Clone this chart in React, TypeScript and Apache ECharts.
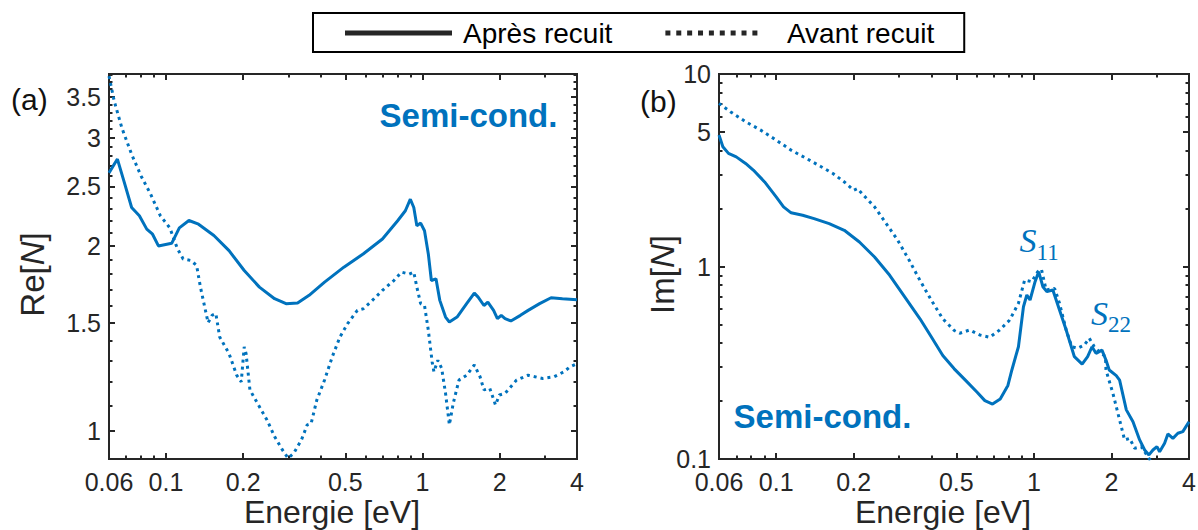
import { useEffect, useRef } from 'react';
import * as echarts from 'echarts';

const FONT = '"Liberation Sans", Arial, Helvetica, sans-serif';
const SERIF = '"Liberation Serif", "Times New Roman", serif';
const BLUE = '#0072BD';
const AXIS = '#262626';

// ---------- Panel (a): Re[N] ----------
const reEnergySolid = [0.06, 0.0647, 0.0686, 0.0735, 0.0788, 0.0842, 0.0887, 0.0935, 0.1053, 0.1128, 0.1229, 0.134, 0.1538, 0.1762, 0.2019, 0.2314, 0.2651, 0.2938, 0.3259, 0.3614, 0.4152, 0.4937, 0.5869, 0.6979, 0.8, 0.8573, 0.8965, 0.9247, 0.9504, 0.9835, 1.018, 1.0535, 1.0827, 1.1285, 1.1679, 1.2296, 1.2725, 1.3634, 1.4857, 1.5918, 1.6475, 1.7355, 1.797, 1.8924, 1.9584, 2.027, 2.098, 2.2096, 2.4076, 2.58, 2.86, 3.17, 3.51, 4.0];
const reSolid = [2.63, 2.77, 2.55, 2.31, 2.24, 2.13, 2.09, 2.0, 2.02, 2.14, 2.2, 2.17, 2.08, 1.965, 1.824, 1.714, 1.641, 1.611, 1.615, 1.662, 1.746, 1.847, 1.941, 2.053, 2.198, 2.282, 2.383, 2.31, 2.158, 2.179, 2.117, 1.941, 1.757, 1.768, 1.631, 1.532, 1.504, 1.532, 1.611, 1.676, 1.651, 1.6, 1.62, 1.571, 1.523, 1.542, 1.523, 1.51, 1.542, 1.571, 1.611, 1.647, 1.641, 1.635];

const reEnergyDotted = [0.06, 0.0629, 0.0674, 0.0735, 0.08, 0.0871, 0.0951, 0.1036, 0.1108, 0.1167, 0.125, 0.1317, 0.1363, 0.146, 0.1512, 0.1565, 0.162, 0.1762, 0.1887, 0.1966, 0.2019, 0.2053, 0.2125, 0.2314, 0.2476, 0.2651, 0.2841, 0.2992, 0.315, 0.3375, 0.3554, 0.368, 0.3874, 0.4152, 0.4449, 0.4767, 0.5108, 0.5573, 0.5869, 0.6283, 0.6979, 0.7733, 0.8287, 0.8878, 0.9247, 0.9504, 0.9835, 1.018, 1.0535, 1.0902, 1.108, 1.1474, 1.1874, 1.2296, 1.2725, 1.3175, 1.3873, 1.4857, 1.5918, 1.6759, 1.7355, 1.8287, 1.9253, 1.993, 2.098, 2.3256, 2.58, 2.9385, 3.26, 3.558, 3.745, 4.0];
const reDotted = [3.78, 3.44, 3.11, 2.82, 2.6, 2.43, 2.24, 2.14, 1.98, 1.905, 1.894, 1.859, 1.714, 1.5, 1.542, 1.552, 1.422, 1.336, 1.232, 1.202, 1.37, 1.336, 1.166, 1.095, 1.042, 0.979, 0.932, 0.903, 0.92, 0.967, 1.023, 1.028, 1.123, 1.21, 1.32, 1.422, 1.495, 1.571, 1.58, 1.621, 1.693, 1.757, 1.813, 1.8, 1.813, 1.714, 1.611, 1.6, 1.458, 1.295, 1.248, 1.303, 1.264, 1.151, 1.023, 1.109, 1.21, 1.232, 1.28, 1.225, 1.166, 1.173, 1.102, 1.144, 1.151, 1.21, 1.232, 1.217, 1.225, 1.248, 1.27, 1.287];

// ---------- Panel (b): Im[N] ----------
const imEnergySolid = [0.06, 0.0621, 0.0653, 0.07, 0.0761, 0.0815, 0.0902, 0.1, 0.1068, 0.1143, 0.1267, 0.1403, 0.1606, 0.1838, 0.2104, 0.2409, 0.2758, 0.3158, 0.3615, 0.4003, 0.4432, 0.4909, 0.5434, 0.6024, 0.6454, 0.6913, 0.7405, 0.7931, 0.8216, 0.8713, 0.9113, 0.9391, 0.9666, 1.011, 1.044, 1.0843, 1.1228, 1.1851, 1.2577, 1.3348, 1.4364, 1.5392, 1.6171, 1.6814, 1.7424, 1.8378, 1.9046, 1.9614, 2.0884, 2.1515, 2.2849, 2.4249, 2.5738, 2.6912, 2.7967, 2.8978, 3.003, 3.0764, 3.2163, 3.3125, 3.4637, 3.6208, 3.7858, 4.0];
const imSolid = [4.82, 4.19, 3.87, 3.71, 3.43, 3.17, 2.75, 2.3, 2.04, 1.9, 1.846, 1.774, 1.671, 1.542, 1.341, 1.121, 0.9, 0.694, 0.535, 0.43, 0.345, 0.294, 0.256, 0.222, 0.201, 0.193, 0.205, 0.241, 0.29, 0.383, 0.618, 0.711, 0.67, 0.834, 0.94, 0.785, 0.74, 0.755, 0.594, 0.468, 0.34, 0.311, 0.34, 0.383, 0.354, 0.368, 0.327, 0.29, 0.271, 0.257, 0.18, 0.156, 0.1256, 0.1114, 0.105, 0.1114, 0.1159, 0.109, 0.1206, 0.1349, 0.128, 0.136, 0.1387, 0.156];

const imEnergyDotted = [0.06, 0.0664, 0.0761, 0.0871, 0.1, 0.1143, 0.1311, 0.15, 0.1661, 0.1838, 0.2, 0.2069, 0.2179, 0.2409, 0.2673, 0.2961, 0.3279, 0.3615, 0.4003, 0.4432, 0.4909, 0.5157, 0.5636, 0.6164, 0.6739, 0.7369, 0.8058, 0.8713, 0.9211, 0.9813, 1.035, 1.0702, 1.116, 1.2034, 1.2577, 1.3348, 1.4033, 1.4783, 1.5692, 1.6409, 1.7158, 1.7946, 1.897, 1.9046, 2.0265, 2.1515, 2.2504, 2.3533, 2.4608, 2.6123, 2.7707, 2.85];
const imDotted = [7.04, 6.37, 5.65, 5.11, 4.535, 4.02, 3.64, 3.29, 3.04, 2.75, 2.49, 2.54, 2.35, 2.04, 1.67, 1.37, 1.08, 0.847, 0.667, 0.535, 0.465, 0.45, 0.468, 0.441, 0.429, 0.468, 0.527, 0.644, 0.851, 0.834, 0.94, 0.967, 0.755, 0.77, 0.644, 0.468, 0.383, 0.376, 0.391, 0.424, 0.383, 0.361, 0.34, 0.29, 0.2195, 0.1595, 0.1256, 0.128, 0.1137, 0.1159, 0.1028, 0.097];

// Peak annotations (S11, S22)
const peakNames = ['11', '22'];
const peakEnergy = [1.048, 1.993];
const peakIm = [1.316, 0.55];

// ---------- Axes ----------
const xRange = [0.06, 4];
const reRange = [0.9, 3.81];
const imRange = [0.1, 10];

const xMajorTicks = [0.06, 0.1, 0.2, 0.5, 1, 2, 4];
const xMajorLabels = ['0.06', '0.1', '0.2', '0.5', '1', '2', '4'];
const xMinorTicks = [0.07, 0.08, 0.09, 0.3, 0.4, 0.6, 0.7, 0.8, 0.9, 3];

const reMajorTicks = [1, 1.5, 2, 2.5, 3, 3.5];
const reMajorLabels = ['1', '1.5', '2', '2.5', '3', '3.5'];
const reMinorTicks = [0.9, 1.1, 1.2, 1.3, 1.4, 1.6, 1.7, 1.8, 1.9, 2.1, 2.2, 2.3, 2.4, 2.6, 2.7, 2.8, 2.9, 3.1, 3.2, 3.3, 3.4, 3.6, 3.7, 3.8];

const imMajorTicks = [0.1, 1, 5, 10];
const imMajorLabels = ['0.1', '1', '5', '10'];
const imMinorTicks = [0.2, 0.3, 0.4, 0.5, 0.6, 0.7, 0.8, 0.9, 2, 3, 4, 6, 7, 8, 9];

const lg = (v: number) => Math.log10(v);
const pairs = (xs: number[], ys: number[]) => xs.map((x, i) => [lg(x), lg(ys[i])]);
const labelAt = (ticks: number[], texts: string[]) => (v: number) => {
  const i = ticks.findIndex((t) => Math.abs(lg(t) - v) < 1e-6);
  return i >= 0 ? texts[i] : '';
};

function tickAxis(
  gridIndex: number,
  position: string,
  range: number[],
  ticks: number[],
  length: number,
  label?: { ticks: number[]; texts: string[]; margin: number },
  extra: any = {}
) {
  return {
    type: 'value',
    gridIndex,
    position,
    min: lg(range[0]),
    max: lg(range[1]),
    axisLine: { show: false, onZero: false },
    splitLine: { show: false },
    axisTick: {
      show: true,
      inside: true,
      length,
      customValues: ticks.map(lg),
      lineStyle: { color: AXIS, width: 2 },
    },
    axisLabel: label
      ? {
          show: true,
          customValues: label.ticks.map(lg),
          formatter: labelAt(label.ticks, label.texts),
          margin: label.margin,
          fontSize: 25,
          lineHeight: 25,
          fontFamily: FONT,
          color: AXIS,
          showMinLabel: true,
          showMaxLabel: true,
          hideOverlap: false,
        }
      : { show: false },
    nameMoveOverlap: false,
    ...extra,
  };
}

const xName = {
  name: 'Energie [eV]',
  nameLocation: 'middle',
  nameGap: 37,
  nameTextStyle: { fontSize: 32, lineHeight: 32, fontFamily: FONT, color: AXIS, padding: [0, 22, 0, 0] },
};

const yName = (prefix: string, gap: number) => ({
  name: `${prefix}[{i|N}]`,
  nameLocation: 'middle',
  nameRotate: 90,
  nameGap: gap,
  nameTextStyle: {
    fontSize: 33,
    fontFamily: FONT,
    color: AXIS,
    padding: [0, 16, 0, 0],
    rich: { i: { fontSize: 33, fontFamily: FONT, fontStyle: 'italic', color: AXIS } },
  },
});

const dotIcon =
  'path://' + [0, 1, 2, 3, 4, 5, 6, 7, 8].map((k) => `M${k * 10.875} 0h5v5h-5z`).join(' ');

const lineSeries = (name: string, x: number, y: number, data: number[][], dotted: boolean, extra: any = {}) => ({
  type: 'line',
  name,
  xAxisIndex: x,
  yAxisIndex: y,
  data,
  showSymbol: false,
  symbol: 'none',
  clip: true,
  silent: true,
  lineStyle: { color: BLUE, width: 3, type: dotted ? [3, 4] : 'solid' },
  itemStyle: { color: BLUE },
  ...extra,
});

export default function App() {
  const ref = useRef<HTMLDivElement>(null);

  useEffect(() => {
    if (!ref.current) return;
    const chart = echarts.init(ref.current, undefined, { renderer: 'svg' });

    const gridBase = {
      show: true,
      borderColor: AXIS,
      borderWidth: 2,
      backgroundColor: 'transparent',
      containLabel: false,
      outerBoundsMode: 'none',
    };

    const option: any = {
      animation: false,
      grid: [
        { ...gridBase, left: 109, top: 74, width: 468, height: 385 },
        { ...gridBase, left: 719, top: 74, width: 470, height: 385 },
      ],
      xAxis: [
        tickAxis(0, 'bottom', xRange, xMajorTicks, 6, { ticks: xMajorTicks, texts: xMajorLabels, margin: 10 }, xName),
        tickAxis(0, 'bottom', xRange, xMinorTicks, 3.5),
        tickAxis(0, 'top', xRange, xMajorTicks, 6),
        tickAxis(0, 'top', xRange, xMinorTicks, 3.5),
        tickAxis(1, 'bottom', xRange, xMajorTicks, 6, { ticks: xMajorTicks, texts: xMajorLabels, margin: 10 }, xName),
        tickAxis(1, 'bottom', xRange, xMinorTicks, 3.5),
        tickAxis(1, 'top', xRange, xMajorTicks, 6),
        tickAxis(1, 'top', xRange, xMinorTicks, 3.5),
      ],
      yAxis: [
        tickAxis(0, 'left', reRange, reMajorTicks, 6, { ticks: reMajorTicks, texts: reMajorLabels, margin: 8 }, yName('Re', 60)),
        tickAxis(0, 'left', reRange, reMinorTicks, 3.5),
        tickAxis(0, 'right', reRange, reMajorTicks, 6),
        tickAxis(0, 'right', reRange, reMinorTicks, 3.5),
        tickAxis(1, 'left', imRange, imMajorTicks, 6, { ticks: imMajorTicks, texts: imMajorLabels, margin: 8 }, yName('Im', 40)),
        tickAxis(1, 'left', imRange, imMinorTicks, 3.5),
        tickAxis(1, 'right', imRange, imMajorTicks, 6),
        tickAxis(1, 'right', imRange, imMinorTicks, 3.5),
      ],
      legend: {
        left: 313,
        top: 13,
        padding: [6, 30, 5, 32],
        borderColor: '#000',
        borderWidth: 2,
        itemWidth: 107,
        itemHeight: 5,
        itemGap: 53,
        selectedMode: false,
        itemStyle: { color: AXIS, borderWidth: 0 },
        textStyle: { fontSize: 28, fontFamily: FONT, color: '#000', padding: [0, 0, 0, 6] },
        data: [
          { name: 'Après recuit', icon: 'rect' },
          { name: 'Avant recuit', icon: dotIcon, textStyle: { padding: [0, 0, 0, 17] } },
        ],
      },
      series: [
        lineSeries('Avant recuit', 0, 0, pairs(reEnergyDotted, reDotted), true),
        lineSeries('Après recuit', 0, 0, pairs(reEnergySolid, reSolid), false),
        lineSeries('Avant recuit', 4, 4, pairs(imEnergyDotted, imDotted), true),
        lineSeries('Après recuit', 4, 4, pairs(imEnergySolid, imSolid), false, {
          markPoint: {
            silent: true,
            symbol: 'circle',
            symbolSize: 0,
            itemStyle: { color: 'rgba(0,0,0,0)' },
            label: {
              show: true,
              position: 'inside',
              formatter: (p: any) => `{s|S}{sub|${p.name}}`,
              rich: {
                s: { fontFamily: SERIF, fontStyle: 'italic', fontSize: 34, color: BLUE, padding: [0, 0, 6, 0], verticalAlign: 'bottom' },
                sub: { fontFamily: SERIF, fontSize: 23, color: BLUE, verticalAlign: 'bottom' },
              },
            },
            data: peakNames.map((n, i) => ({ name: n, coord: [lg(peakEnergy[i]), lg(peakIm[i])] })),
          },
        }),
      ],
      graphic: [
        { type: 'text', x: 11, y: 99, style: { text: '(a)', fontSize: 30, fontFamily: FONT, fill: '#111', align: 'left', verticalAlign: 'middle' } },
        { type: 'text', x: 640, y: 101.5, style: { text: '(b)', fontSize: 30, fontFamily: FONT, fill: '#111', align: 'left', verticalAlign: 'middle' } },
        { type: 'text', x: 468.5, y: 115.5, style: { text: 'Semi-cond.', fontSize: 33, fontWeight: 'bold', fontFamily: FONT, fill: BLUE, align: 'center', verticalAlign: 'middle' } },
        { type: 'text', x: 822.5, y: 416, style: { text: 'Semi-cond.', fontSize: 33, fontWeight: 'bold', fontFamily: FONT, fill: BLUE, align: 'center', verticalAlign: 'middle' } },
      ],
    };

    chart.setOption(option);
    return () => chart.dispose();
  }, []);

  return (
    <div
      ref={ref}
      style={{ position: 'fixed', left: 0, top: 0, width: 1198, height: 530, background: '#fff' }}
    />
  );
}
